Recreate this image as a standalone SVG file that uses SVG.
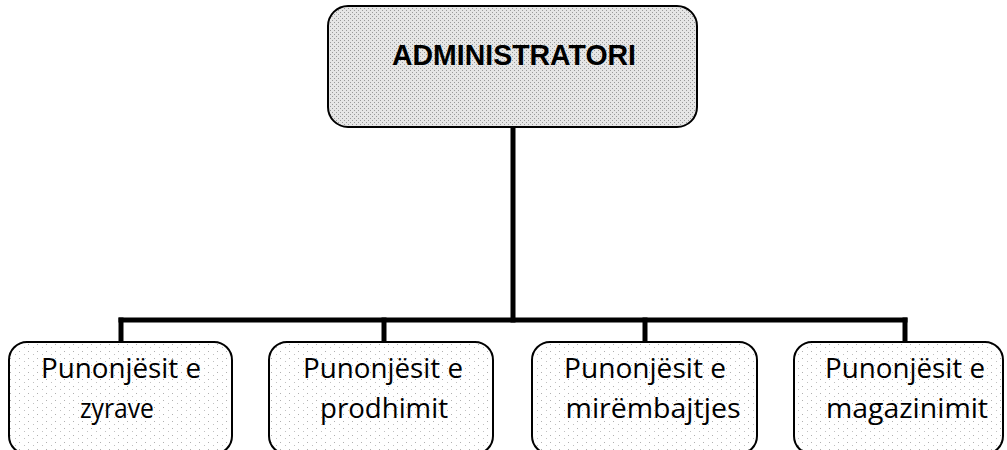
<svg xmlns="http://www.w3.org/2000/svg" width="1007" height="450" viewBox="0 0 1007 450">
  <defs>
    <pattern id="dotsDense" width="4" height="4" patternUnits="userSpaceOnUse">
      <rect width="4" height="4" fill="#e6e6e6"/>
      <rect x="0" y="0" width="1" height="1" fill="#9a9a9a"/>
      <rect x="2" y="2" width="1" height="1" fill="#9a9a9a"/>
    </pattern>
    <pattern id="dotsSparse" width="9" height="7" patternUnits="userSpaceOnUse">
      <rect width="9" height="7" fill="#ffffff"/>
      <rect x="1" y="1" width="1" height="1" fill="#b0b0b0"/>
      <rect x="6" y="4" width="1" height="1" fill="#c0c0c0"/>
    </pattern>
  </defs>
  <style>
    .top { fill: url(#dotsDense); stroke: #000; stroke-width: 2; }
    .child { fill: url(#dotsSparse); stroke: #000; stroke-width: 2; }
    .title { font-family: "Liberation Sans", Arial, sans-serif; font-weight: bold; font-size: 30px; fill: #000; text-anchor: middle; }
    .lbl { font-family: "Open Sans", "Liberation Sans", sans-serif; font-size: 27px; fill: #000; text-anchor: middle; }
    .conn { fill: none; stroke: #000; stroke-width: 5; stroke-linecap: square; }
  </style>

  <g id="connectors">
    <line class="conn" x1="513" y1="127" x2="513" y2="320"/>
    <line class="conn" x1="121" y1="320" x2="905" y2="320"/>
    <line class="conn" x1="121" y1="320" x2="121" y2="341"/>
    <line class="conn" x1="384" y1="320" x2="384" y2="341"/>
    <line class="conn" x1="645" y1="320" x2="645" y2="341"/>
    <line class="conn" x1="905" y1="320" x2="905" y2="341"/>
  </g>

  <g id="node-administratori">
    <rect class="top" x="328" y="6" width="369" height="121" rx="20" ry="20"/>
    <text class="title" x="514" y="65" textLength="244" lengthAdjust="spacingAndGlyphs">ADMINISTRATORI</text>
  </g>

  <g id="node-zyrave">
    <rect class="child" x="9" y="342" width="223" height="112" rx="18" ry="18"/>
    <text class="lbl" x="121" y="378" textLength="160" lengthAdjust="spacingAndGlyphs">Punonjësit e</text>
    <text class="lbl" x="117" y="418" textLength="74" lengthAdjust="spacingAndGlyphs">zyrave</text>
  </g>

  <g id="node-prodhimit">
    <rect class="child" x="269" y="342" width="224" height="112" rx="18" ry="18"/>
    <text class="lbl" x="383" y="378" textLength="160" lengthAdjust="spacingAndGlyphs">Punonjësit e</text>
    <text class="lbl" x="384" y="418" textLength="128" lengthAdjust="spacingAndGlyphs">prodhimit</text>
  </g>

  <g id="node-mirembajtjes">
    <rect class="child" x="532" y="342" width="225" height="112" rx="18" ry="18"/>
    <text class="lbl" x="645" y="378" textLength="162" lengthAdjust="spacingAndGlyphs">Punonjësit e</text>
    <text class="lbl" x="653" y="418" textLength="175" lengthAdjust="spacingAndGlyphs">mirëmbajtjes</text>
  </g>

  <g id="node-magazinimit">
    <rect class="child" x="794" y="342" width="209" height="112" rx="18" ry="18"/>
    <text class="lbl" x="905" y="378" textLength="160" lengthAdjust="spacingAndGlyphs">Punonjësit e</text>
    <text class="lbl" x="907" y="418" textLength="162" lengthAdjust="spacingAndGlyphs">magazinimit</text>
  </g>
</svg>
